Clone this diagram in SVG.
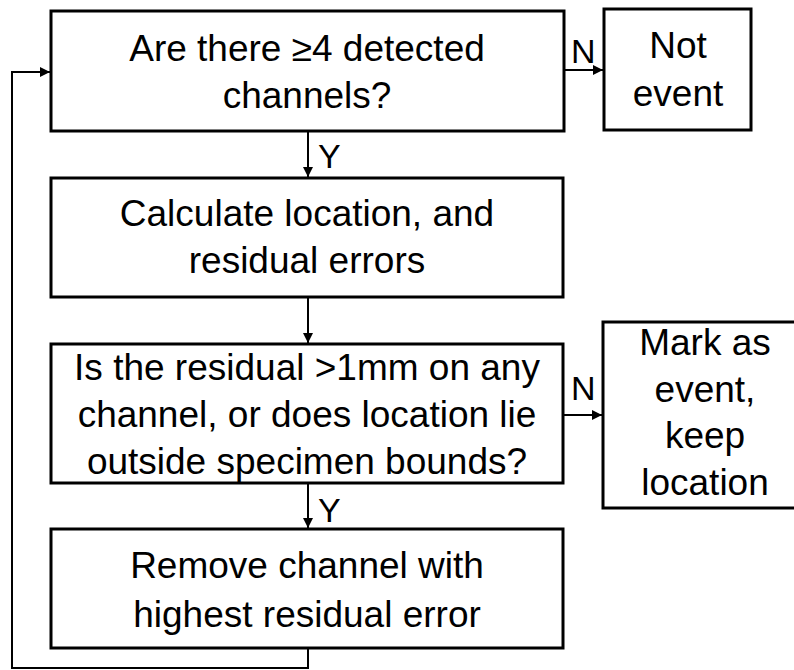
<svg xmlns="http://www.w3.org/2000/svg" width="794" height="670" viewBox="0 0 794 670">
<style>
.box{fill:#fff;stroke:#000;stroke-width:3}
.t{font-family:"Liberation Sans",Arial,sans-serif;font-size:37px;fill:#000;text-anchor:middle}
.lbl{font-family:"Liberation Sans",Arial,sans-serif;font-size:34px;fill:#000}
.c{fill:none;stroke:#000;stroke-width:2}
</style>
<defs>
<marker id="ah" viewBox="0 0 10 10" refX="10" refY="5" markerWidth="10" markerHeight="10" markerUnits="userSpaceOnUse" orient="auto">
<path d="M0,0 L10,5 L0,10 Z" fill="#000"/>
</marker>
</defs>
<rect width="794" height="670" fill="#fff"/>
<g id="connectors">
<line class="c" x1="308" y1="131" x2="308" y2="177" marker-end="url(#ah)"/>
<line class="c" x1="308" y1="297" x2="308" y2="343" marker-end="url(#ah)"/>
<line class="c" x1="308" y1="483" x2="308" y2="528" marker-end="url(#ah)"/>
<line class="c" x1="564" y1="70" x2="603" y2="70" marker-end="url(#ah)"/>
<line class="c" x1="563" y1="415" x2="602" y2="415" marker-end="url(#ah)"/>
<polyline class="c" points="308,648 308,668 12,668 12,72 50,72" marker-end="url(#ah)"/>
<text class="lbl" x="318" y="168">Y</text>
<text class="lbl" x="318" y="522">Y</text>
<text class="lbl" x="571" y="63">N</text>
<text class="lbl" x="571" y="400">N</text>
</g>
<g id="n1">
<rect class="box" x="51" y="11" width="513" height="120"/>
<text class="t" x="307" y="61">Are there ≥4 detected</text>
<text class="t" x="307" y="108">channels?</text>
</g>
<g id="n2">
<rect class="box" x="604" y="9" width="147" height="121"/>
<text class="t" x="678" y="58">Not</text>
<text class="t" x="678" y="106">event</text>
</g>
<g id="n3">
<rect class="box" x="51" y="178" width="512" height="119"/>
<text class="t" x="307" y="226">Calculate location, and</text>
<text class="t" x="307" y="273">residual errors</text>
</g>
<g id="n4">
<rect class="box" x="51" y="344" width="512" height="139"/>
<text class="t" x="307" y="380">Is the residual &gt;1mm on any</text>
<text class="t" x="307" y="427">channel, or does location lie</text>
<text class="t" x="307" y="474">outside specimen bounds?</text>
</g>
<g id="n5">
<rect class="box" x="603" y="322" width="210" height="186"/>
<text class="t" x="705" y="355">Mark as</text>
<text class="t" x="705" y="402">event,</text>
<text class="t" x="705" y="448">keep</text>
<text class="t" x="705" y="495">location</text>
</g>
<g id="n6">
<rect class="box" x="51" y="529" width="512" height="119"/>
<text class="t" x="307" y="578">Remove channel with</text>
<text class="t" x="307" y="627">highest residual error</text>
</g>
</svg>
